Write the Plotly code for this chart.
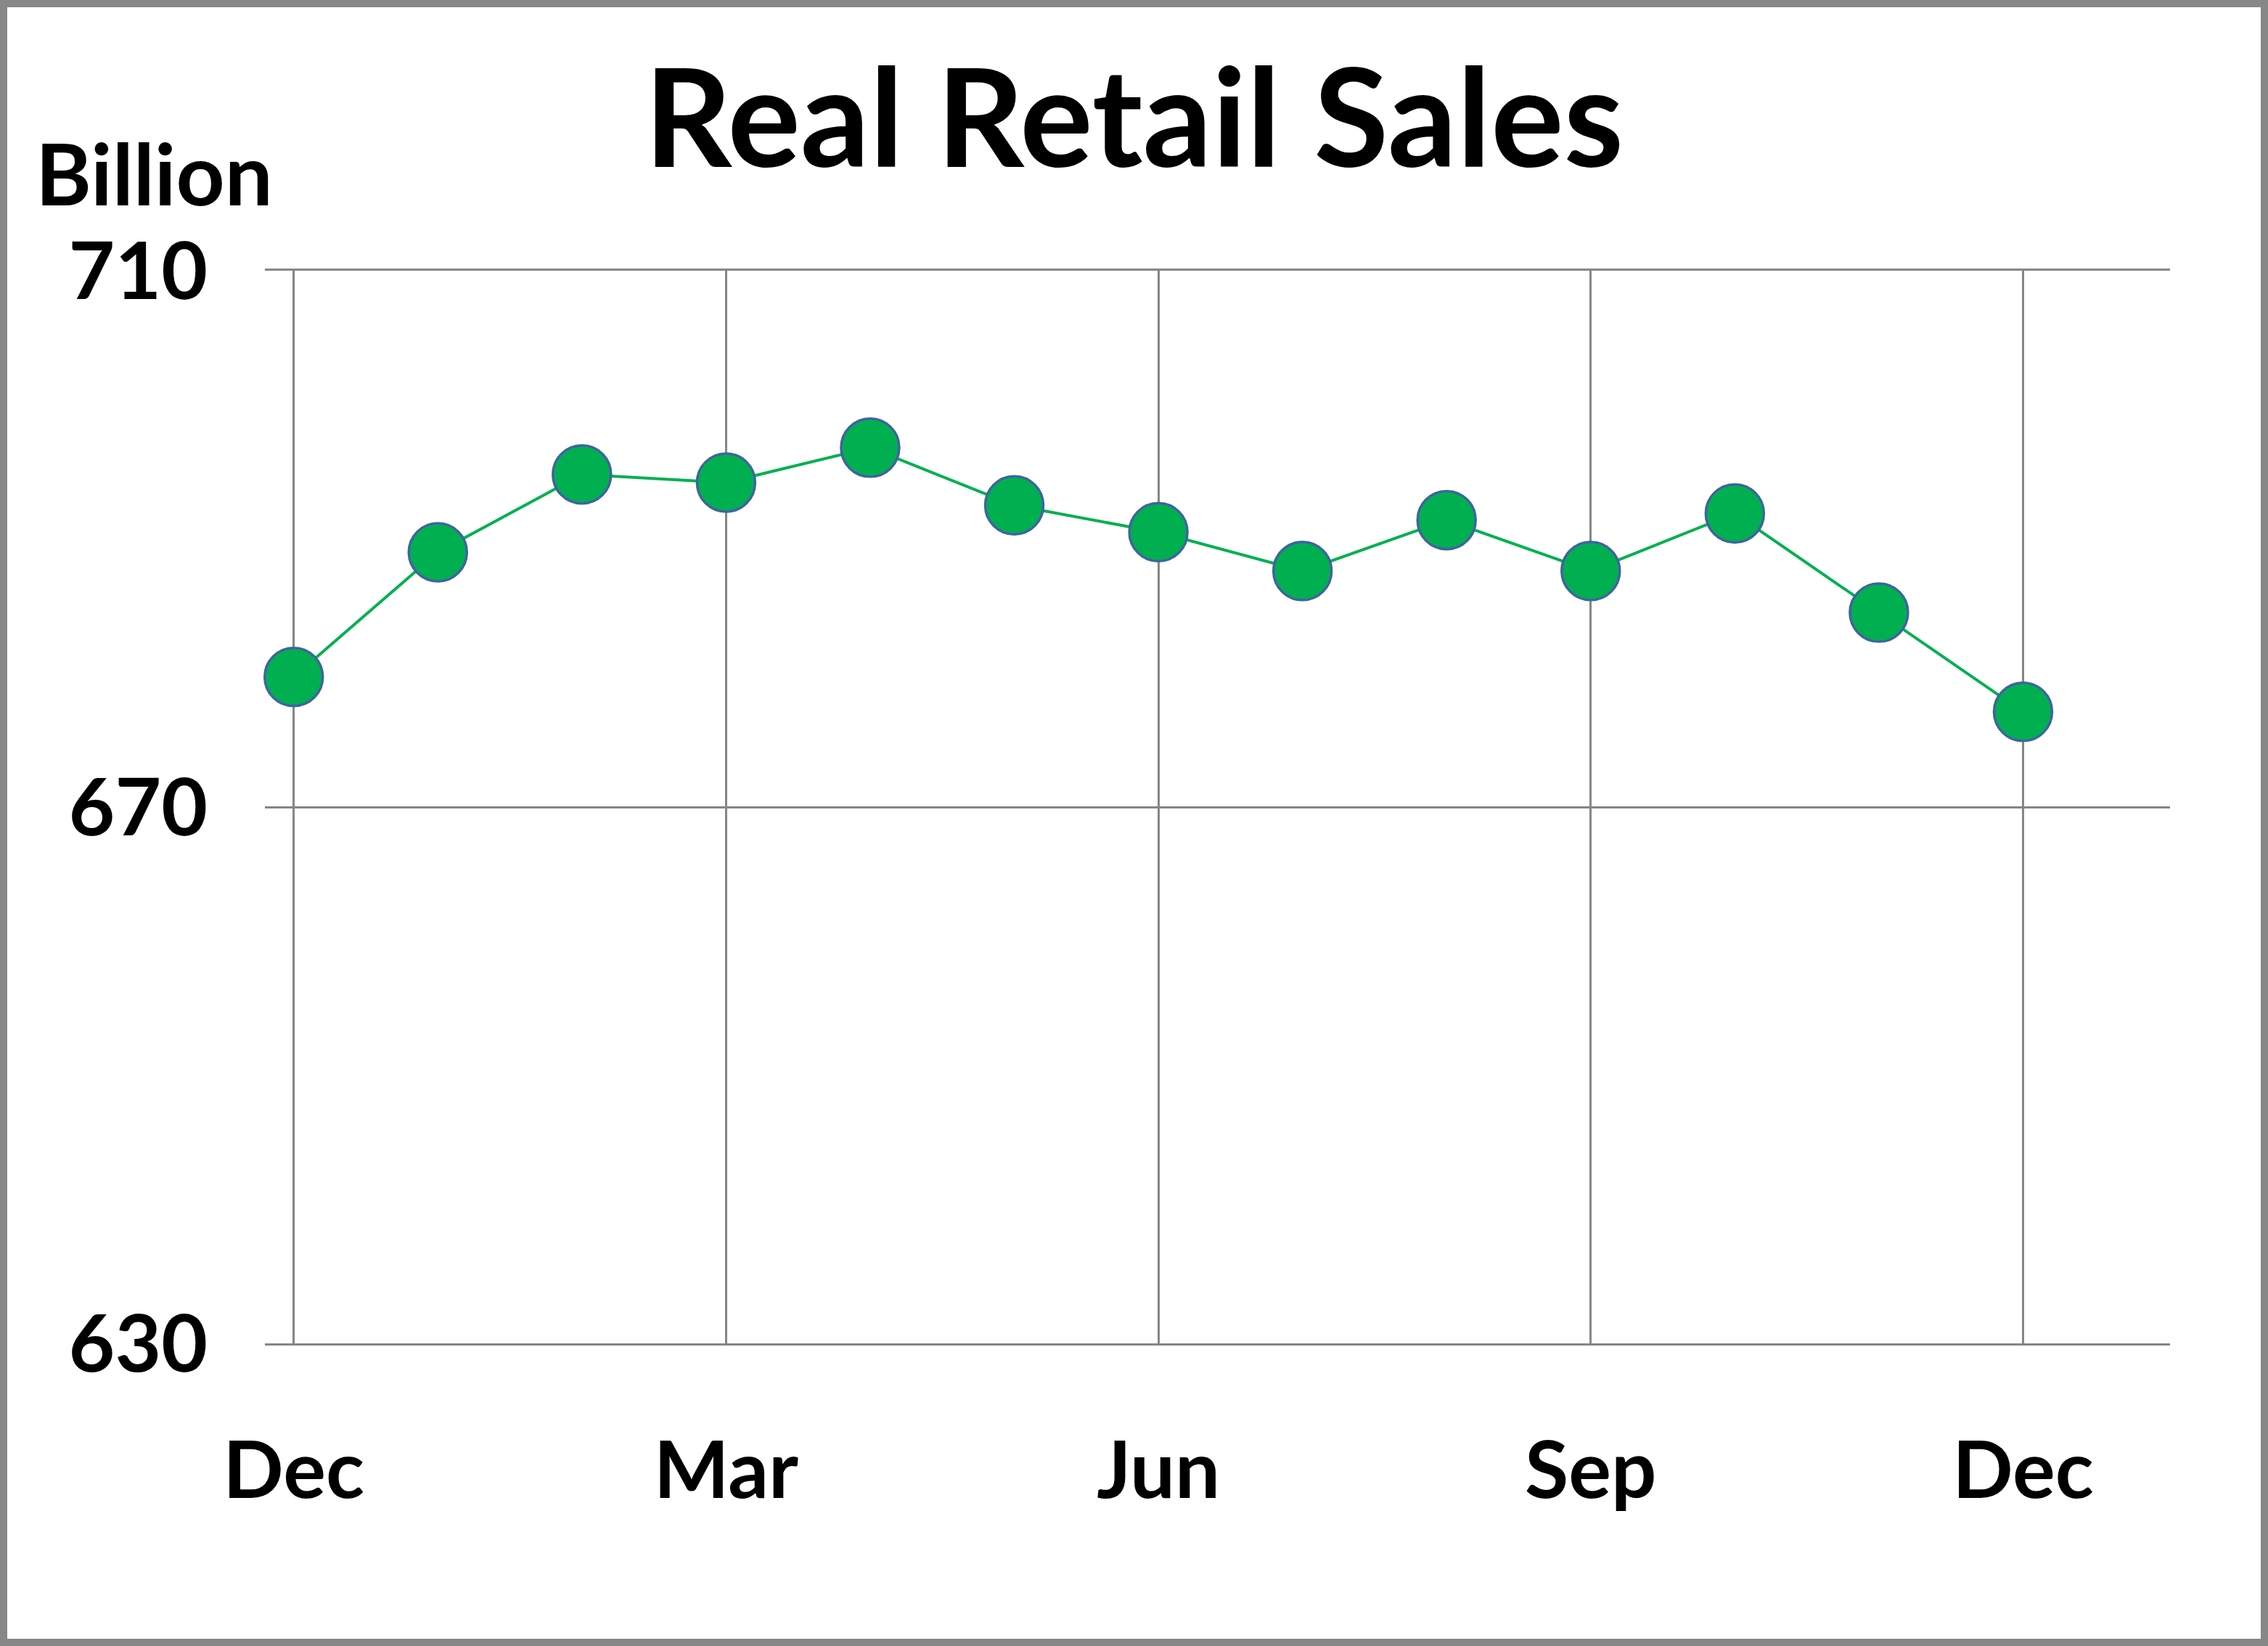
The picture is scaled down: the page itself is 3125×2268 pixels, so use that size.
import plotly.graph_objects as go

# Data
months = ["Dec", "Jan", "Feb", "Mar", "Apr", "May", "Jun",
          "Jul", "Aug", "Sep", "Oct", "Nov", "Dec"]
sales = [679.7, 689.0, 694.8, 694.2, 696.8, 692.5, 690.5,
         687.6, 691.4, 687.6, 691.9, 684.5, 677.1]
tick_positions = [0, 3, 6, 9, 12]
tick_labels = ["Dec", "Mar", "Jun", "Sep", "Dec"]
y_ticks = [630, 670, 710]

W, H = 3125, 2268
ML, MR, MT, MB = 365, 135, 373, 417
PW, PH = W - ML - MR, H - MT - MB

FONT = "Lato"
GRID = "#868686"

x_idx = list(range(len(months)))

fig = go.Figure()
fig.add_trace(go.Scatter(
    x=x_idx, y=sales, mode="lines+markers",
    line=dict(color="#00B050", width=4),
    marker=dict(size=80, color="#00B050",
                line=dict(color="#3E64A0", width=3.5)),
    cliponaxis=False,
    hoverinfo="skip", showlegend=False,
))

fig.update_layout(
    width=W, height=H,
    margin=dict(l=ML, r=MR, t=MT, b=MB),
    paper_bgcolor="white", plot_bgcolor="white",
    font=dict(family=FONT, color="black"),
    title=dict(text="Real Retail Sales", xref="container", x=0.5,
               xanchor="center", yref="container", y=1 - 164 / H,
               yanchor="middle",
               font=dict(family=FONT, size=188, weight="bold", color="black")),
    xaxis=dict(range=[-0.2, 13.02], tickmode="array",
               tickvals=tick_positions, ticktext=tick_labels,
               showgrid=True, gridcolor=GRID, gridwidth=3,
               zeroline=False, showline=True, mirror=True,
               linecolor=GRID, linewidth=3, ticks="",
               ticklabelstandoff=78,
               tickfont=dict(family=FONT, size=110, weight="bold", color="black")),
    yaxis=dict(range=[630, 710], tickmode="array", tickvals=y_ticks,
               showgrid=True, gridcolor=GRID, gridwidth=3,
               zeroline=False, showline=False, ticks="",
               ticklabelstandoff=78,
               tickfont=dict(family=FONT, size=110, weight="bold", color="black")),
)

# "Billion" unit label
fig.add_annotation(
    text="Billion", xref="paper", yref="paper",
    x=(47 - ML) / PW, xanchor="left",
    y=1 + (MT - 238) / PH, yanchor="middle",
    showarrow=False,
    font=dict(family=FONT, size=117, weight="bold", color="black"),
)

# Outer frame
b = 5
fig.add_shape(
    type="rect", xref="paper", yref="paper",
    x0=(b - ML) / PW, x1=(W - b - ML) / PW,
    y0=-(MB - b) / PH, y1=1 + (MT - b) / PH,
    line=dict(color="#878787", width=10), fillcolor="rgba(0,0,0,0)",
    layer="below",
)

fig.write_html(
    "out.html",
    config={"displayModeBar": False},
    post_script="document.body.style.margin='0';document.body.style.overflow='hidden';",
)
